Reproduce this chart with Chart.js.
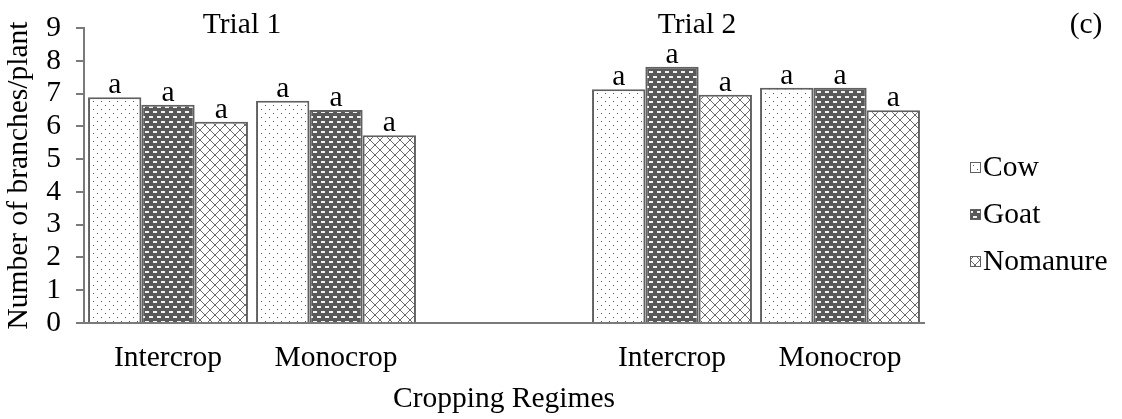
<!DOCTYPE html>
<html><head><meta charset="utf-8">
<script src="https://cdn.jsdelivr.net/npm/chart.js@4/dist/chart.umd.min.js"></script>
<style>html,body{margin:0;padding:0;background:#fff}#wrap{width:1122px;height:419px;position:relative}</style>
</head><body><div id="wrap"><canvas id="c"></canvas></div>
<script>
const categories = ['Intercrop', 'Monocrop', '', 'Intercrop', 'Monocrop'];
const seriesNames = ['Cow', 'Goat', 'Nomanure'];
const cowValues = [6.89, 6.78, null, 7.13, 7.18];
const goatValues = [6.66, 6.50, null, 7.82, 7.18];
const nomanureValues = [6.14, 5.73, null, 6.96, 6.49];
const cowLetters = ['a', 'a', null, 'a', 'a'];
const goatLetters = ['a', 'a', null, 'a', 'a'];
const nomanureLetters = ['a', 'a', null, 'a', 'a'];
const trialLabels = ['Trial 1', 'Trial 2'];
const panelLabel = '(c)';
const yTitle = 'Number of branches/plant';
const xTitle = 'Cropping Regimes';

const FONT = 'Liberation Serif';
const FS = 29.5;
const GREY = '#7a7a7a';
const BAR_BORDER = '#606060';

function makeTile(w, h, draw) {
  const c = document.createElement('canvas');
  c.width = w; c.height = h;
  const x = c.getContext('2d');
  draw(x);
  return c;
}
const dotTile = makeTile(8, 8, x => {
  x.fillStyle = '#fff'; x.fillRect(0, 0, 8, 8);
  x.fillStyle = '#555';
  x.fillRect(1, 1, 1, 1); x.fillRect(5, 5, 1, 1);
});
const dashTile = makeTile(8, 10, x => {
  x.fillStyle = '#595959'; x.fillRect(0, 0, 8, 10);
  x.fillStyle = '#f2f2f2';
  x.fillRect(1, 1, 4, 2); x.fillRect(5, 6, 3, 2); x.fillRect(0, 6, 1, 2);
});
const crossTile = makeTile(10, 10, x => {
  x.fillStyle = '#fff'; x.fillRect(0, 0, 10, 10);
  x.strokeStyle = '#6a6a6a'; x.lineWidth = 1;
  x.beginPath(); x.moveTo(0, 0); x.lineTo(10, 10); x.moveTo(10, 0); x.lineTo(0, 10); x.stroke();
});
const ctx = document.getElementById('c').getContext('2d');
const fills = [ctx.createPattern(dotTile, 'repeat'), ctx.createPattern(dashTile, 'repeat'), ctx.createPattern(crossTile, 'repeat')];
const letters = [cowLetters, goatLetters, nomanureLetters];

const extras = {
  id: 'extras',
  afterDatasetsDraw(chart) {
    const c = chart.ctx;
    c.save();
    c.font = FS + 'px "' + FONT + '"';
    c.fillStyle = '#000';
    c.textAlign = 'center';
    c.textBaseline = 'alphabetic';
    chart.data.datasets.forEach((ds, i) => {
      const meta = chart.getDatasetMeta(i);
      meta.data.forEach((el, j) => {
        if (ds.data[j] == null || !letters[i][j]) return;
        c.fillText(letters[i][j], el.x, el.y - 4);
      });
    });
    c.restore();
  },
  afterDraw(chart) {
    const c = chart.ctx;
    c.save();
    c.font = FS + 'px "' + FONT + '"';
    c.fillStyle = '#000';
    c.textAlign = 'center';
    c.textBaseline = 'alphabetic';
    c.fillText(trialLabels[0], 242, 33);
    c.fillText(trialLabels[1], 697, 33);
    c.fillText(panelLabel, 1086, 33);
    // legend
    c.textAlign = 'left';
    c.textBaseline = 'middle';
    const ys = [167, 214, 261];
    seriesNames.forEach((n, i) => {
      const bx = 970, by = ys[i] - 5;
      c.fillStyle = fills[i];
      c.fillRect(bx, by, 10, 10);
      c.strokeStyle = BAR_BORDER; c.lineWidth = 1;
      c.strokeRect(bx + 0.5, by + 0.5, 10, 10);
      c.fillStyle = '#000';
      c.fillText(n, 983, ys[i] + 1);
    });
    c.restore();
  }
};

new Chart(ctx, {
  type: 'bar',
  data: {
    labels: categories,
    datasets: [cowValues, goatValues, nomanureValues].map((d, i) => ({
      label: seriesNames[i],
      data: d,
      backgroundColor: fills[i],
      borderColor: BAR_BORDER,
      borderWidth: 2,
      categoryPercentage: 0.952,
      barPercentage: 1.0
    }))
  },
  options: {
    responsive: true,
    maintainAspectRatio: false,
    animation: false,
    layout: { padding: { left: 0, right: 198, top: 28, bottom: 0 } },
    plugins: { legend: { display: false }, tooltip: { enabled: false } },
    scales: {
      x: {
        grid: { display: false, drawTicks: false },
        border: { display: true, color: GREY, width: 2 },
        ticks: { color: '#000', font: { family: FONT, size: FS }, padding: 18, maxRotation: 0, autoSkip: false },
        title: { display: true, text: xTitle, color: '#000', font: { family: FONT, size: FS }, padding: { top: 0, bottom: 2 } },
        afterFit(s) { s.height = 96; }
      },
      y: {
        min: 0, max: 9,
        ticks: { stepSize: 1, autoSkip: false, color: '#000', font: { family: FONT, size: FS }, padding: 15 },
        grid: { drawOnChartArea: false, drawTicks: true, tickLength: 8, color: GREY, lineWidth: 2 },
        border: { display: true, color: GREY, width: 2 },
        title: { display: true, text: yTitle, color: '#000', font: { family: FONT, size: FS }, padding: { top: 2, bottom: 0 } },
        afterFit(s) { s.width = 84; s.paddingTop = 0; s.paddingBottom = 0; }
      }
    }
  },
  plugins: [extras]
});
</script>
</body></html>
